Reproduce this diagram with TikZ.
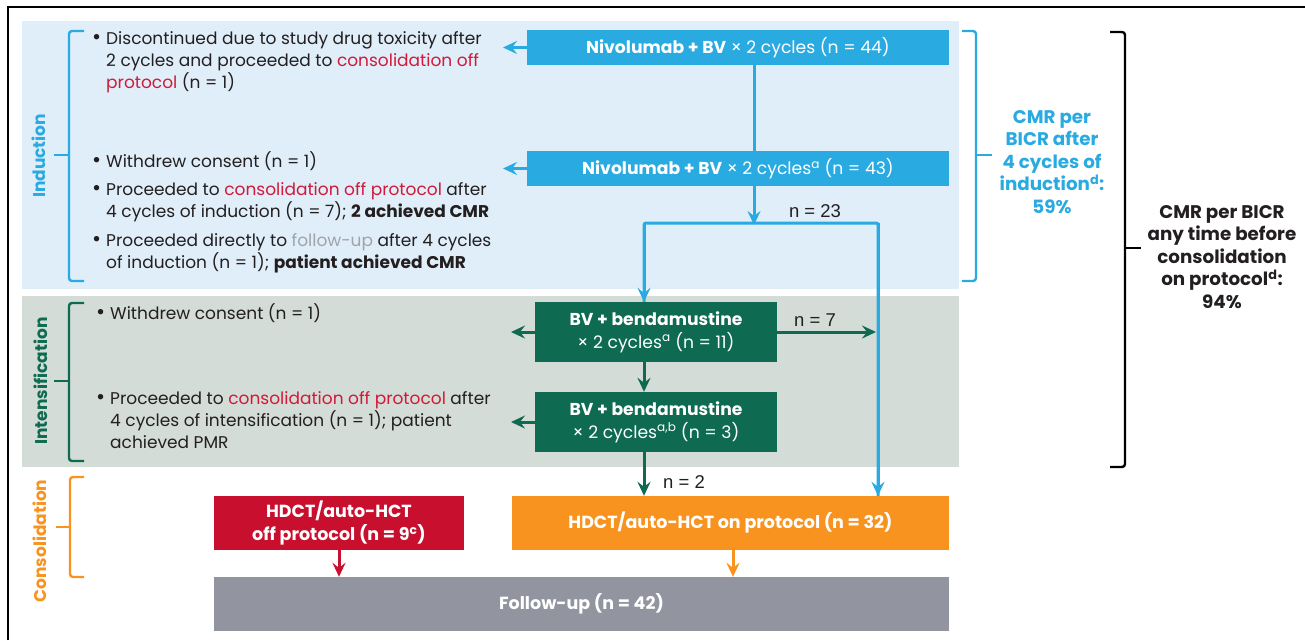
\documentclass[tikz,border=0pt]{standalone}
\usepackage{fontspec}
\setmainfont{Poppins}
\newfontfamily\nfont{Liberation Sans}
\usetikzlibrary{arrows.meta}
\definecolor{ibg}{RGB}{224,238,249}
\definecolor{iblue}{RGB}{41,170,225}
\definecolor{sbg}{RGB}{211,220,215}
\definecolor{sgreen}{RGB}{14,106,80}
\definecolor{cred}{RGB}{200,16,46}
\definecolor{corange}{RGB}{247,147,30}
\definecolor{fgray}{RGB}{146,149,159}
\definecolor{tdark}{RGB}{35,31,32}
\definecolor{tred}{RGB}{208,26,58}
\definecolor{tgray}{RGB}{160,164,170}
\newcommand{\bdot}{\llap{{\fontsize{22}{22}\selectfont\textbullet}\hspace{5pt}}}

\begin{document}
\begin{tikzpicture}[x=1pt,y=-1pt,
  box/.style={inner sep=0, text=white, align=center, font=\fontsize{17.2}{23}\selectfont},
  bul/.style={inner sep=0, anchor=west, align=left, text=tdark, font=\fontsize{17}{22}\selectfont},
  phase/.style={rotate=90, inner sep=0, font=\bfseries\fontsize{17}{17}\selectfont},
  resp/.style={inner sep=0, align=center, font=\bfseries\fontsize{18.3}{22.5}\selectfont},
  nlab/.style={inner sep=0, text=tdark, font=\nfont\fontsize{18.5}{18.5}\selectfont},
  bracket/.style={line width=2.4pt, rounded corners=3pt},
  arr/.style={-{Stealth[length=14pt,width=13pt,inset=5pt]}},
  flow/.style={line width=3pt}]

\useasboundingbox (0,0) rectangle (1305,640);

%frame
\draw[line width=1.5pt] (8,640) -- (8,7) -- (1305,7);

%phase backgrounds
\fill[ibg] (22,21) rectangle (959,289);
\fill[sbg] (22,296) rectangle (959,467);

%phase labels and brackets
\node[phase, text=iblue] (lind) at (39,156) {Induction};
\node[phase, text=sgreen] (lint) at (41,381) {Intensification};
\node[phase, text=corange] (lcon) at (40,541) {Consolidation};
\draw[bracket, iblue] (84,31) -- (69,31) -- (69,281) -- (84,281);
\draw[bracket, iblue] (69,155) -- (54,155);
\draw[bracket, sgreen] (84,303) -- (69,303) -- (69,461) -- (84,461);
\draw[bracket, sgreen] (69,381) -- (54,381);
\draw[bracket, corange] (84,477) -- (70,477) -- (70,577) -- (84,577);
\draw[bracket, corange] (70,527) -- (56,527);

%boxes
\node[box, fill=iblue, minimum width=422, minimum height=35] (n1) at (738,47.5)
  {\textbf{Nivolumab + BV} × 2 cycles (n = 44)};
\node[box, fill=iblue, minimum width=422, minimum height=35] (n2) at (738,168.5)
  {\textbf{Nivolumab + BV} × 2 cycles\textsuperscript{a} (n = 43)};
\node[box, fill=sgreen, minimum width=242, minimum height=60] (bv1) at (656,332)
  {\textbf{BV + bendamustine}\\× 2 cycles\textsuperscript{a} (n = 11)};
\node[box, fill=sgreen, minimum width=242, minimum height=60] (bv2) at (656,422)
  {\textbf{BV + bendamustine}\\× 2 cycles\textsuperscript{a,b} (n = 3)};
\node[box, fill=cred, minimum width=250, minimum height=54, font=\bfseries\fontsize{17.5}{23}\selectfont] (off) at (339,523)
  {HDCT/auto-HCT\\off protocol (n = 9\textsuperscript{c})};
\node[box, fill=corange, minimum width=437, minimum height=54, font=\bfseries\fontsize{17.5}{23}\selectfont] (on) at (730.5,523)
  {HDCT/auto-HCT on protocol (n = 32)};
\node[box, fill=fgray, minimum width=735, minimum height=54, font=\bfseries\fontsize{17.5}{23}\selectfont] (fu) at (581.5,604)
  {Follow-up (n = 42)};

%bullet lists
\node[bul] (i1) at (106,62) {\bdot Discontinued due to study drug toxicity after\\
  2 cycles and proceeded to \textcolor{tred}{consolidation off}\\\textcolor{tred}{protocol} (n = 1)};
\node[bul] (i2) at (106,161) {\bdot Withdrew consent (n = 1)};
\node[bul] (i3) at (106,202) {\bdot Proceeded to \textcolor{tred}{consolidation off protocol} after\\
  4 cycles of induction (n = 7); \textbf{2 achieved CMR}};
\node[bul] (i4) at (106,253) {\bdot Proceeded directly to \textcolor{tgray}{follow-up} after 4 cycles\\
  of induction (n = 1); \textbf{patient achieved CMR}};
\node[bul] (s1) at (110,313) {\bdot Withdrew consent (n = 1)};
\node[bul] (s2) at (110,420) {\bdot Proceeded to \textcolor{tred}{consolidation off protocol} after\\
  4 cycles of intensification (n = 1); patient\\achieved PMR};

%response rates
\draw[bracket, iblue] (962,31) -- (976,31) -- (976,281) -- (962,281);
\draw[bracket, iblue] (976,155) -- (992,155);
\node[resp, text=iblue] (r1) at (1052,162) {CMR per\\BICR after\\4 cycles of\\induction\textsuperscript{d}:\\59\%};
\draw[bracket, black] (1110,32) -- (1125,32) -- (1125,467) -- (1110,467);
\draw[bracket, black] (1125,248) -- (1141,248);
\node[resp, text=tdark] (r2) at (1222,257) {CMR per BICR\\any time before\\consolidation\\on protocol\textsuperscript{d}:\\94\%};

%junctions
\coordinate (j) at (754,223);
\coordinate (jl) at (644,223);
\coordinate (jr) at (878,223);
\coordinate (e1) at (503,47.5);
\coordinate (e2) at (503,168.5);
\coordinate (e3) at (511,332);
\coordinate (e4) at (511,422);

%induction flow
\draw[flow, iblue, arr] (n1.west) -- (e1);
\draw[flow, iblue, arr] (n2.west) -- (e2);
\draw[flow, iblue] (n1.south -| j) -- (n2.north -| j);
\draw[flow, iblue, arr] (n2.south -| j) -- ([yshift=-2]j);
\draw[flow, iblue, rounded corners=2pt] (bv1.north -| jl) -- (jl) -- (jr) -- (on.north -| jr);
\draw[flow, iblue, arr] (jl) -- (bv1.north -| jl);
\draw[flow, iblue, arr] (jr) -- (on.north -| jr);
\node[nlab] (n23) at (815,211) {n = 23};

%intensification flow
\draw[flow, sgreen, arr] (bv1.west) -- (e3);
\draw[flow, sgreen, arr] (bv2.west) -- (e4);
\draw[flow, sgreen, arr, shorten >=2pt] (bv1.east) -- (bv1.east -| jr);
\node[nlab] (n7) at (815,320) {n = 7};
\draw[flow, sgreen, arr] (bv1.south -| jl) -- (bv2.north -| jl);
\draw[flow, sgreen, arr] (bv2.south -| jl) -- (on.north -| jl);
\node[nlab] (n2l) at (684,482) {n = 2};

%consolidation flow
\draw[flow, cred, arr] (off.south -| 339,0) -- (fu.north -| 339,0);
\draw[flow, corange, arr] (on.south -| 733,0) -- (fu.north -| 733,0);

\end{tikzpicture}
\end{document}
